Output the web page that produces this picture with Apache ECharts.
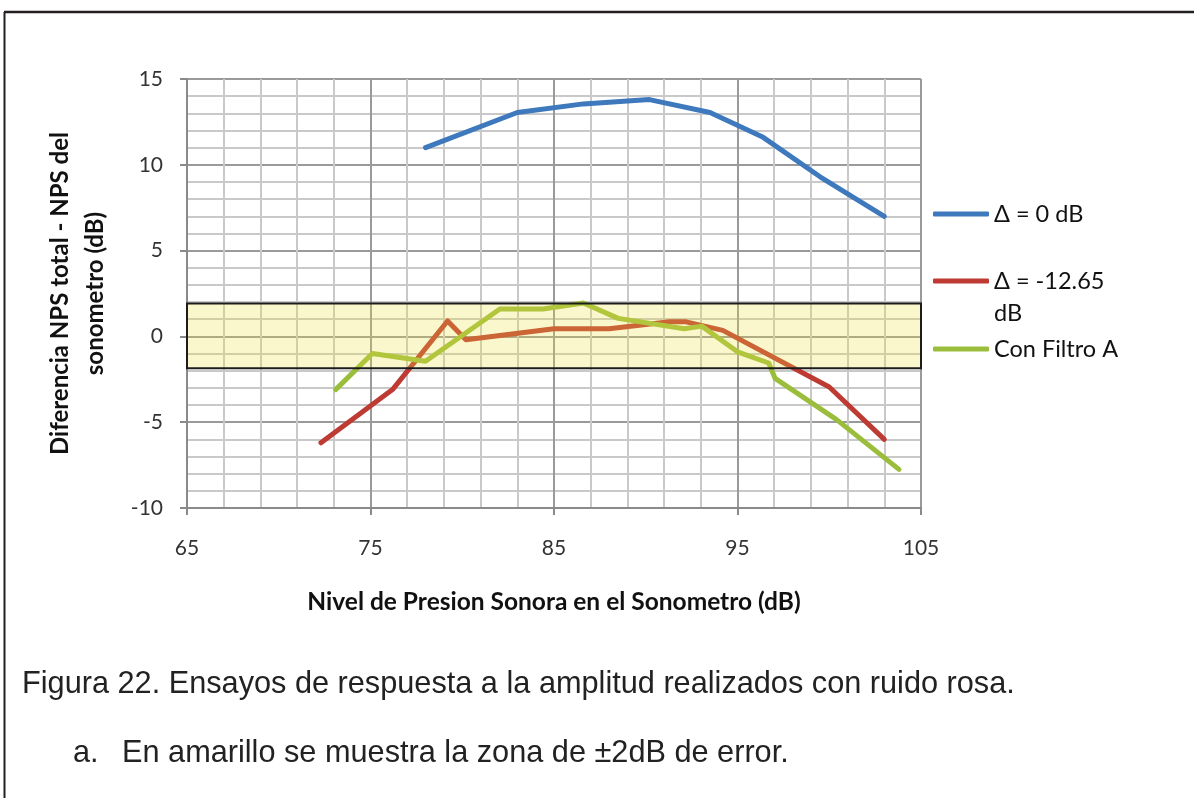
<!DOCTYPE html>
<html>
<head>
<meta charset="utf-8">
<script src="https://cdn.jsdelivr.net/npm/echarts@6/dist/echarts.min.js"></script>
<style>
  html, body { margin: 0; padding: 0; background: #fff; }
  #chart { width: 1194px; height: 798px; }
</style>
</head>
<body>
<div id="chart"></div>
<script>
// Series: [sound level (dB), difference (dB)]
const serieNames = ['Δ = 0 dB', 'Δ = -12.65 dB', 'Con Filtro A'];
const delta0 = [[78, 11], [83, 13.05], [86.6, 13.55], [90.2, 13.8], [93.5, 13.05], [96.4, 11.6], [99.5, 9.3], [103, 7]];
const delta1265 = [[72.3, -6.2], [76.2, -3.1], [79.2, 0.9], [80.2, -0.2], [85, 0.45], [88, 0.45], [91.3, 0.85], [92.2, 0.85], [94.2, 0.35], [100, -2.95], [103, -6]];
const filtroA = [[73.1, -3.1], [75.1, -1], [78, -1.45], [82.05, 1.6], [84.4, 1.6], [86.6, 1.95], [88.5, 1.05], [92.1, 0.45], [93.05, 0.6], [95, -0.9], [96.7, -1.55], [97.05, -2.45], [100.4, -4.85], [103.8, -7.75]];
// Error band (±2 dB zone)
const bandX = [65, 105];
const bandY = [-1.85, 1.92];
// Axis ranges: [min, max, interval]
const xRange = [65, 105, 10];
const yRange = [-10, 15, 5];

const colors = ['#3D79BC', '#BE3B33', '#9BBD3C'];
const tickFont = 'Lato';

function lineSeries(name, data, color) {
  return {
    name: name, type: 'line', data: data,
    showSymbol: false, symbol: 'none', z: 3,
    lineStyle: { width: 5, color: color, cap: 'round', join: 'round' },
    itemStyle: { color: color },
    animation: false
  };
}

// One legend block per series; a wrapped name gets an empty first line so
// that the icon stays level with the first line of text.
function legendFor(name, top, wraps) {
  return {
    data: [name], left: 928, top: top, orient: 'vertical',
    icon: 'roundRect', itemWidth: 56, itemHeight: 5, itemGap: 0,
    selectedMode: false,
    formatter: wraps ? (n => '\n' + n) : (n => n),
    textStyle: { fontFamily: tickFont, fontSize: 23.5, color: '#111', width: 132, overflow: 'break', lineHeight: 32 }
  };
}

const chart = echarts.init(document.getElementById('chart'), null, { renderer: 'canvas' });
chart.setOption({
  backgroundColor: '#fff',
  animation: false,
  grid: { left: 187, top: 79, width: 734, height: 429, containLabel: false },
  xAxis: {
    type: 'value', min: xRange[0], max: xRange[1], interval: xRange[2],
    name: 'Nivel de Presion Sonora en el Sonometro (dB)',
    nameLocation: 'middle', nameGap: 82,
    nameTextStyle: { fontFamily: tickFont, fontSize: 24.5, fontWeight: 'bold', color: '#111' },
    axisLine: { show: true, onZero: false, lineStyle: { color: '#8a8a8a', width: 2 } },
    axisTick: { show: true, length: 7, lineStyle: { color: '#8a8a8a', width: 2 } },
    axisLabel: { margin: 30, fontFamily: tickFont, fontSize: 21, color: '#333' },
    splitLine: { show: true, lineStyle: { color: '#9a9a9a', width: 2 } },
    minorTick: { show: false, splitNumber: 5 },
    minorSplitLine: { show: true, lineStyle: { color: '#c9c9c9', width: 2 } }
  },
  yAxis: {
    type: 'value', min: yRange[0], max: yRange[1], interval: yRange[2],
    name: 'Diferencia NPS total - NPS del\nsonometro (dB)',
    nameLocation: 'middle', nameGap: 74, nameRotate: 90,
    nameTextStyle: { fontFamily: tickFont, fontSize: 24, fontWeight: 'bold', color: '#111', lineHeight: 35 },
    axisLine: { show: true, onZero: false, lineStyle: { color: '#8a8a8a', width: 2 } },
    axisTick: { show: true, length: 7, lineStyle: { color: '#8a8a8a', width: 2 } },
    axisLabel: { margin: 24, fontFamily: tickFont, fontSize: 21, color: '#333' },
    splitLine: { show: true, lineStyle: { color: '#9a9a9a', width: 2 } },
    minorTick: { show: false, splitNumber: 5 },
    minorSplitLine: { show: true, lineStyle: { color: '#c9c9c9', width: 2 } }
  },
  legend: [
    legendFor(serieNames[0], 193, false),
    legendFor(serieNames[1], 228, true),
    legendFor(serieNames[2], 328, false)
  ],
  series: [
    lineSeries(serieNames[0], delta0, colors[0]),
    lineSeries(serieNames[1], delta1265, colors[1]),
    lineSeries(serieNames[2], filtroA, colors[2]),
    {
      type: 'line', data: [], silent: true, z: 6,
      markArea: {
        silent: true, z: 6,
        itemStyle: { color: 'rgba(240,226,60,0.26)', borderColor: '#1c1c1c', borderWidth: 2 },
        data: [[{ xAxis: bandX[0], yAxis: bandY[0] }, { xAxis: bandX[1], yAxis: bandY[1] }]]
      }
    }
  ],
  graphic: [
    { type: 'line', shape: { x1: 4, y1: 12, x2: 1194, y2: 12 }, style: { stroke: '#231f20', lineWidth: 2.5 } },
    { type: 'line', shape: { x1: 4.5, y1: 12, x2: 4.5, y2: 798 }, style: { stroke: '#231f20', lineWidth: 2 } },
    { type: 'text', left: 22, top: 669, style: { text: 'Figura 22. Ensayos de respuesta a la amplitud realizados con ruido rosa.', font: '30.7px "Liberation Sans"', fill: '#222' } },
    { type: 'text', left: 73, top: 738, style: { text: 'a.', font: '30.7px "Liberation Sans"', fill: '#222' } },
    { type: 'text', left: 122, top: 738, style: { text: 'En amarillo se muestra la zona de ±2dB de error.', font: '30.7px "Liberation Sans"', fill: '#222' } }
  ]
});
</script>
</body>
</html>
